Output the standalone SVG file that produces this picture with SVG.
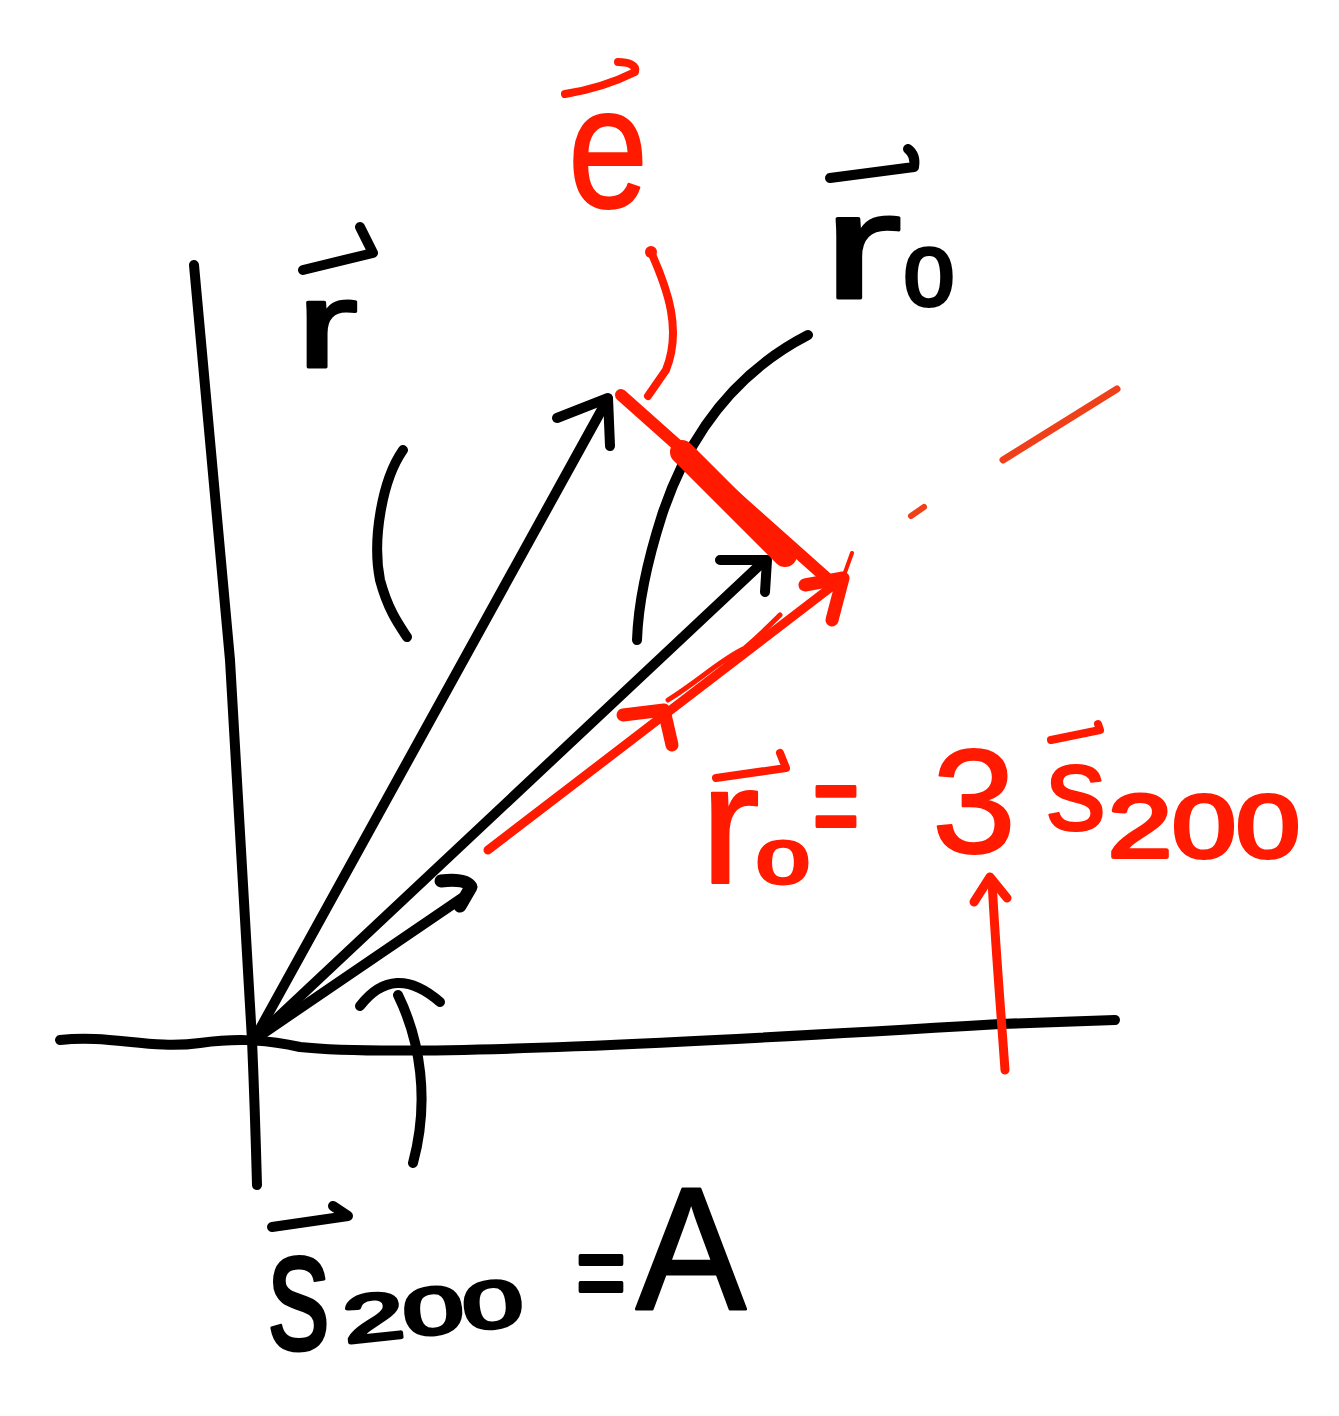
<svg xmlns="http://www.w3.org/2000/svg" width="1339" height="1416" viewBox="0 0 1339 1416">
<style>
.k{fill:none;stroke:#000;stroke-width:10;stroke-linecap:round;stroke-linejoin:round}
.rd{fill:none;stroke:#ff1a00;stroke-width:9;stroke-linecap:round;stroke-linejoin:round}
.tk{font-family:"Liberation Sans",Arial,sans-serif;fill:#000;stroke:#000;stroke-width:3;stroke-linejoin:round}
.tr{font-family:"Liberation Sans",Arial,sans-serif;fill:#ff1a00;stroke:#ff1a00;stroke-width:2;stroke-linejoin:round}
.sub{stroke-width:4}
</style>
<rect width="1339" height="1416" fill="#fff"/>
<g id="axes">
 <path class="k" d="M194,265 L230,660 L252,1040 Q255,1110 257,1185"/>
 <path class="k" d="M60,1040 C110,1034 150,1050 200,1043 C230,1039 260,1038 300,1047 C400,1058 700,1042 1000,1024 L1115,1020"/>
</g>
<g id="connectors">
 <path id="vec-r" class="k" d="M256,1036 L606,402"/>
 <path class="k" d="M557,418 L608,398 L610,446"/>
 <path id="vec-r0" class="k" d="M258,1036 L762,563"/>
 <path class="k" d="M720,560 L767,560 L765,592"/>
 <path id="vec-s200" class="k" d="M258,1037 L462,898"/>
 <path class="k" style="stroke-width:13" d="M441,881 Q466,878 471,887 L460,906"/>
 <path id="arc-r" class="k" d="M403,450 C382,480 372,540 380,580 C388,610 399,625 407,637"/>
 <path id="arc-r0" class="k" d="M808,335 C740,370 690,430 662,515 C646,565 638,610 637,640"/>
 <path id="arc-s" class="k" d="M360,1006 Q394,962 440,1002"/>
 <path class="k" d="M398,995 C420,1040 430,1100 413,1163"/>
 <path id="vec-e" class="rd" style="stroke-width:12" d="M621,395 L840,590"/>
 <path class="rd" style="stroke-width:24" d="M682,452 L785,555"/>
 <path id="brace-e" class="rd" style="stroke-width:8" d="M651,252 C668,290 682,330 666,370 L648,396"/>
 <circle cx="651" cy="252" r="6" fill="#ff1a00"/>
 <path id="vec-3s" class="rd" d="M488,850 L843,578"/>
 <path class="rd" style="stroke-width:5" d="M668,700 C700,680 720,660 745,648 C760,635 770,625 780,615"/>
 <path class="rd" style="stroke-width:13" d="M623,715 L664,710 L672,745"/>
 <path class="rd" style="stroke-width:13" d="M805,585 L843,578 L832,620"/>
 <path class="rd" style="stroke-width:4" d="M843,578 L852,553"/>
 <path id="dash" fill="none" stroke="#f0401a" stroke-width="7" stroke-linecap="round" d="M1003,460 L1117,389"/>
 <path fill="none" stroke="#f0401a" stroke-width="6" stroke-linecap="round" d="M911,516 L924,507"/>
 <path id="up-arrow" class="rd" d="M1005,1070 C1000,1000 995,940 992,880"/>
 <path class="rd" d="M974,902 L990,877 L1007,898"/>
</g>
<g id="label-r">
 <path class="k" style="stroke-width:10" d="M303,270 L373,253 L360,227"/>
 <text class="tk" x="296" y="367" font-size="123" textLength="62" lengthAdjust="spacingAndGlyphs">r</text>
</g>
<g id="label-r0">
 <path class="k" style="stroke-width:10" d="M830,178 L914,167 Q916,155 908,149"/>
 <text class="tk" x="822" y="298" font-size="150" textLength="80" lengthAdjust="spacingAndGlyphs">r</text>
 <text class="tk sub" x="904" y="305" font-size="81" textLength="50" lengthAdjust="spacingAndGlyphs">0</text>
</g>
<g id="label-e">
 <path class="rd" style="stroke-width:8" d="M565,94 C590,90 615,82 635,72 C637,65 628,62 618,62"/>
 <text class="tr" x="568" y="207" font-size="172" textLength="80" lengthAdjust="spacingAndGlyphs">e</text>
</g>
<g id="label-eq-red">
 <path class="rd" style="stroke-width:8" d="M716,778 L786,768 L780,753"/>
 <text class="tr" x="700" y="883" font-size="170" textLength="60" lengthAdjust="spacingAndGlyphs">r</text>
 <text class="tr sub" x="757" y="883" font-size="60" textLength="52" lengthAdjust="spacingAndGlyphs">0</text>
 <text class="tr sub" x="813" y="846" font-size="120" textLength="46" lengthAdjust="spacingAndGlyphs">=</text>
 <text class="tr" x="932" y="853" font-size="148" textLength="84" lengthAdjust="spacingAndGlyphs">3</text>
 <path class="rd" style="stroke-width:8" d="M1051,740 L1100,730 L1098,724"/>
 <text class="tr" x="1046" y="830" font-size="121" textLength="60" lengthAdjust="spacingAndGlyphs">s</text>
 <text class="tr sub" x="1108" y="857" font-size="89" textLength="192" lengthAdjust="spacingAndGlyphs">200</text>
</g>
<g id="label-s200">
 <path class="k" style="stroke-width:10" d="M272,1227 L348,1216 L333,1206"/>
 <text class="tk" x="268" y="1349" font-size="173" textLength="62" lengthAdjust="spacingAndGlyphs">s</text>
 <text class="tk sub" x="346" y="1343" font-size="66" textLength="180" lengthAdjust="spacingAndGlyphs" transform="rotate(-6 346 1343)">200</text>
 <text class="tk sub" x="576" y="1309" font-size="110" textLength="50" lengthAdjust="spacingAndGlyphs">=</text>
 <text class="tk" x="636" y="1309" font-size="175" textLength="110" lengthAdjust="spacingAndGlyphs">A</text>
</g>
</svg>
